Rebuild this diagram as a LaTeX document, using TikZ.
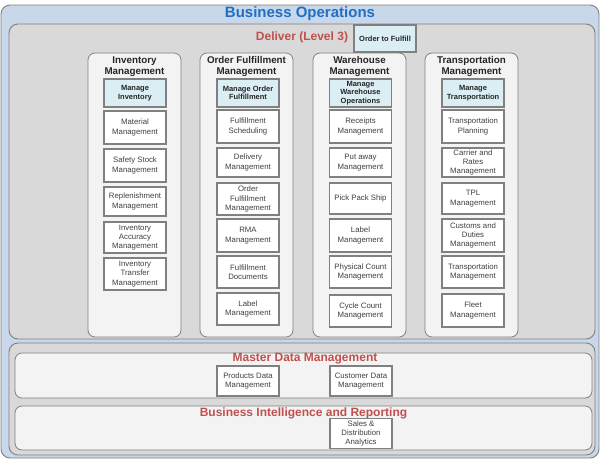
\documentclass[tikz,border=0pt]{standalone}
\usepackage{fontspec}
\setmainfont{Liberation Sans}
\usepackage{tikz}
\definecolor{azulfundo}{HTML}{C8D7E9}
\definecolor{azultit}{HTML}{1F70C4}
\definecolor{vermelho}{HTML}{C0504D}
\definecolor{cinzafundo}{HTML}{D9D9D9}
\definecolor{cinzaclaro}{HTML}{F3F3F3}
\definecolor{ciano}{HTML}{DAEEF3}
\definecolor{borda}{HTML}{808080}
\tikzstyle{caixa}=[draw=borda, line width=1.1pt, fill=white, minimum width=62pt, minimum height=31pt, inner sep=1pt, align=center, text=black!75, font=\fontsize{7.8}{9.3}\selectfont]
\tikzstyle{cabeca}=[caixa, fill=ciano, minimum height=28pt, text=black!85, font=\fontsize{7.5}{8.6}\selectfont\bfseries]
\tikzstyle{coluna}=[draw=borda, line width=0.8pt, fill=cinzaclaro, rounded corners=7pt]
\tikzstyle{painel}=[draw=borda, line width=0.9pt, rounded corners=9pt]
\tikzstyle{titulo}=[inner sep=0pt, align=center, text=black!85, font=\fontsize{9.8}{11}\selectfont\bfseries]
\tikzstyle{rotulo}=[inner sep=0pt, text=vermelho, font=\fontsize{12}{14}\selectfont\bfseries]

\begin{document}
\begin{tikzpicture}[x=1pt, y=-1pt]
    \useasboundingbox (0,0) rectangle (600,459);
    % outer frame and panels
    \draw [painel, fill=azulfundo] (1,5) rectangle (599,458);
    \draw [painel, fill=cinzafundo] (9,24) rectangle (595,339);
    \draw [painel, fill=cinzafundo] (9,343) rectangle (595,455);
    \draw [coluna] (15,353) rectangle (592,398);
    \draw [coluna] (15,406) rectangle (592,450);
    \draw [coluna] (88,53) rectangle (181,337);
    \draw [coluna] (200,53) rectangle (293,337);
    \draw [coluna] (313,53) rectangle (406,337);
    \draw [coluna] (425,53) rectangle (518,337);

    \node (bo) [inner sep=0pt, text=azultit, font=\fontsize{15}{17}\selectfont\bfseries] at (300, 13.5) {Business Operations};
    \node (del) [rotulo] at (302, 37) {Deliver (Level 3)};
    \node (otf) [cabeca, minimum height=27pt] at (385, 38.5) {Order to Fulfill};

    % Inventory Management
    \node (tinv) [titulo] at (134.5, 66.5) {Inventory\\Management};
    \node (inv) [cabeca] at (135, 93) {Manage\\Inventory};
    \node (mat) [caixa, minimum height=33pt] at (135, 127.5) {Material\\Management};
    \node (saf) [caixa, minimum height=33pt] at (135, 165.5) {Safety Stock\\Management};
    \node (rep) [caixa, minimum height=29pt] at (135, 201.5) {Replenishment\\Management};
    \node (acc) [caixa] at (135, 237.5) {Inventory\\Accuracy\\Management};
    \node (tra) [caixa, minimum height=32pt] at (135, 274) {Inventory\\Transfer\\Management};

    % Order Fulfillment Management
    \node (tord) [titulo] at (246.5, 66.5) {Order Fulfillment\\Management};
    \node (ord) [cabeca] at (248, 93) {Manage Order\\Fulfillment};
    \node (sch) [caixa, minimum height=33pt] at (248, 126.5) {Fulfillment\\Scheduling};
    \node (dlv) [caixa, minimum height=29pt] at (248, 162.5) {Delivery\\Management};
    \node (ofm) [caixa, minimum height=32pt] at (248, 199) {Order\\Fulfillment\\Management};
    \node (rma) [caixa, minimum height=33pt] at (248, 235.5) {RMA\\Management};
    \node (doc) [caixa, minimum height=32pt] at (248, 272) {Fulfillment\\Documents};
    \node (lbo) [caixa, minimum height=32pt] at (248, 309) {Label\\Management};

    % Warehouse Management
    \node (twar) [titulo] at (359.5, 66.5) {Warehouse\\Management};
    \node (war) [cabeca, font=\fontsize{7.5}{8.4}\selectfont\bfseries] at (360.5, 93) {Manage\\Warehouse\\Operations};
    \node (rec) [caixa, minimum height=33pt] at (360.5, 126.5) {Receipts\\Management};
    \node (put) [caixa, minimum height=29pt] at (360.5, 162.5) {Put away\\Management};
    \node (pps) [caixa] at (360.5, 198.5) {Pick Pack Ship};
    \node (lbw) [caixa, minimum height=33pt] at (360.5, 235.5) {Label\\Management};
    \node (phy) [caixa, minimum height=32pt] at (360.5, 272) {Physical Count\\Management};
    \node (cyc) [caixa, minimum height=32pt] at (360.5, 311) {Cycle Count\\Management};

    % Transportation Management
    \node (ttrn) [titulo] at (471.5, 66.5) {Transportation\\Management};
    \node (trn) [cabeca] at (473, 93) {Manage\\Transportation};
    \node (pla) [caixa, minimum height=33pt] at (473, 126.5) {Transportation\\Planning};
    \node (car) [caixa, minimum height=29pt] at (473, 162.5) {Carrier and\\Rates\\Management};
    \node (tpl) [caixa] at (473, 198.5) {TPL\\Management};
    \node (cus) [caixa, minimum height=33pt] at (473, 235.5) {Customs and\\Duties\\Management};
    \node (tmg) [caixa, minimum height=32pt] at (473, 272) {Transportation\\Management};
    \node (flt) [caixa, minimum height=33pt] at (473, 310.5) {Fleet\\Management};

    % Master Data Management
    \node (mdm) [rotulo] at (305, 359) {Master Data Management};
    \node (pdm) [caixa, minimum height=30pt] at (248, 381) {Products Data\\Management};
    \node (cdm) [caixa, minimum height=30pt] at (361, 381) {Customer Data\\Management};

    % Business Intelligence and Reporting
    \node (bir) [rotulo] at (303.5, 413) {Business Intelligence and Reporting};
    \node (sda) [caixa, minimum height=30pt] at (361, 433.5) {Sales \&\\Distribution\\Analytics};
\end{tikzpicture}
\end{document}
